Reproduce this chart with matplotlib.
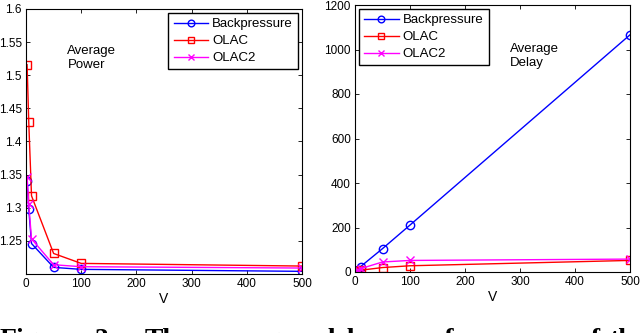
import matplotlib
matplotlib.use("Agg")
import matplotlib.pyplot as plt

plt.rcParams['font.family'] = ['Liberation Sans', 'DejaVu Sans']

# data
V = [2, 5, 10, 50, 100, 500]
power_bp = [1.341, 1.298, 1.246, 1.210, 1.207, 1.204]
power_olac = [1.516, 1.429, 1.318, 1.231, 1.216, 1.212]
power_olac2 = [1.347, 1.305, 1.253, 1.214, 1.211, 1.209]

delay_bp = [4, 11, 24, 105, 211, 1066]
delay_olac = [2, 4, 8, 20, 28, 52]
delay_olac2 = [3, 8, 15, 45, 52, 58]

labels = ['Backpressure', 'OLAC', 'OLAC2']
colors = ['#0000ff', '#ff0000', '#ff00ff']
markers = ['o', 's', 'x']

power_yticks = [1.25, 1.3, 1.35, 1.4, 1.45, 1.5, 1.55, 1.6]
power_yticklabels = ['1.25', '1.3', '1.35', '1.4', '1.45', '1.5', '1.55', '1.6']
delay_yticks = [0, 200, 400, 600, 800, 1000, 1200]
xticks = [0, 100, 200, 300, 400, 500]

caption_words = ['Figure', '3:', 'The', 'average', 'delay', 'performance', 'of', 'the']
caption_x = [0, 95, 145, 200, 320, 405, 577, 610]

fig = plt.figure(figsize=(6.4, 3.33), dpi=100)
ax1 = fig.add_axes([26 / 640, 59 / 333, 276 / 640, 265 / 333])
ax2 = fig.add_axes([355 / 640, 61 / 333, 275 / 640, 267 / 333])


def style(ax):
    ax.tick_params(direction='in', top=True, right=True, labelsize=8.5,
                   length=3, width=0.6, pad=3)
    for s in ax.spines.values():
        s.set_linewidth(0.8)
    ax.set_xlim(0, 500)
    ax.set_xticks(xticks)
    ax.set_xlabel('V', fontsize=10, labelpad=1)


for ys, c, m, lab in zip([power_bp, power_olac, power_olac2], colors, markers, labels):
    ax1.plot(V, ys, color=c, marker=m, mfc='none', mec=c, ms=6, lw=1, label=lab)
style(ax1)
ax1.set_ylim(1.2, 1.6)
ax1.set_yticks(power_yticks)
ax1.set_yticklabels(power_yticklabels)
ax1.text(75, 1.545, 'Average\nPower', fontsize=9.5, va='top', linespacing=1.2)
ax1.legend(loc='upper right', fontsize=9.5, frameon=True, fancybox=False,
           edgecolor='black', framealpha=1, handlelength=2.6, handletextpad=0.3,
           borderpad=0.4, labelspacing=0.35, borderaxespad=0.3, markerscale=0.8)

for ys, c, m, lab in zip([delay_bp, delay_olac, delay_olac2], colors, markers, labels):
    ax2.plot(V, ys, color=c, marker=m, mfc='none', mec=c, ms=6, lw=1, label=lab)
style(ax2)
ax2.set_ylim(0, 1200)
ax2.set_yticks(delay_yticks)
ax2.text(282, 1030, 'Average\nDelay', fontsize=9.5, va='top', linespacing=1.2)
ax2.legend(loc='upper left', fontsize=9.5, frameon=True, fancybox=False,
           edgecolor='black', framealpha=1, handlelength=2.6, handletextpad=0.3,
           borderpad=0.4, labelspacing=0.35, borderaxespad=0.3, markerscale=0.8)

# caption cut off at the bottom edge, as in the source figure
for w, x in zip(caption_words, caption_x):
    fig.text(x / 640, -0.041, w, family=['Liberation Serif', 'DejaVu Serif'],
             fontweight='bold', fontsize=20, va='baseline', ha='left')

fig.savefig('out.png', dpi=100)
